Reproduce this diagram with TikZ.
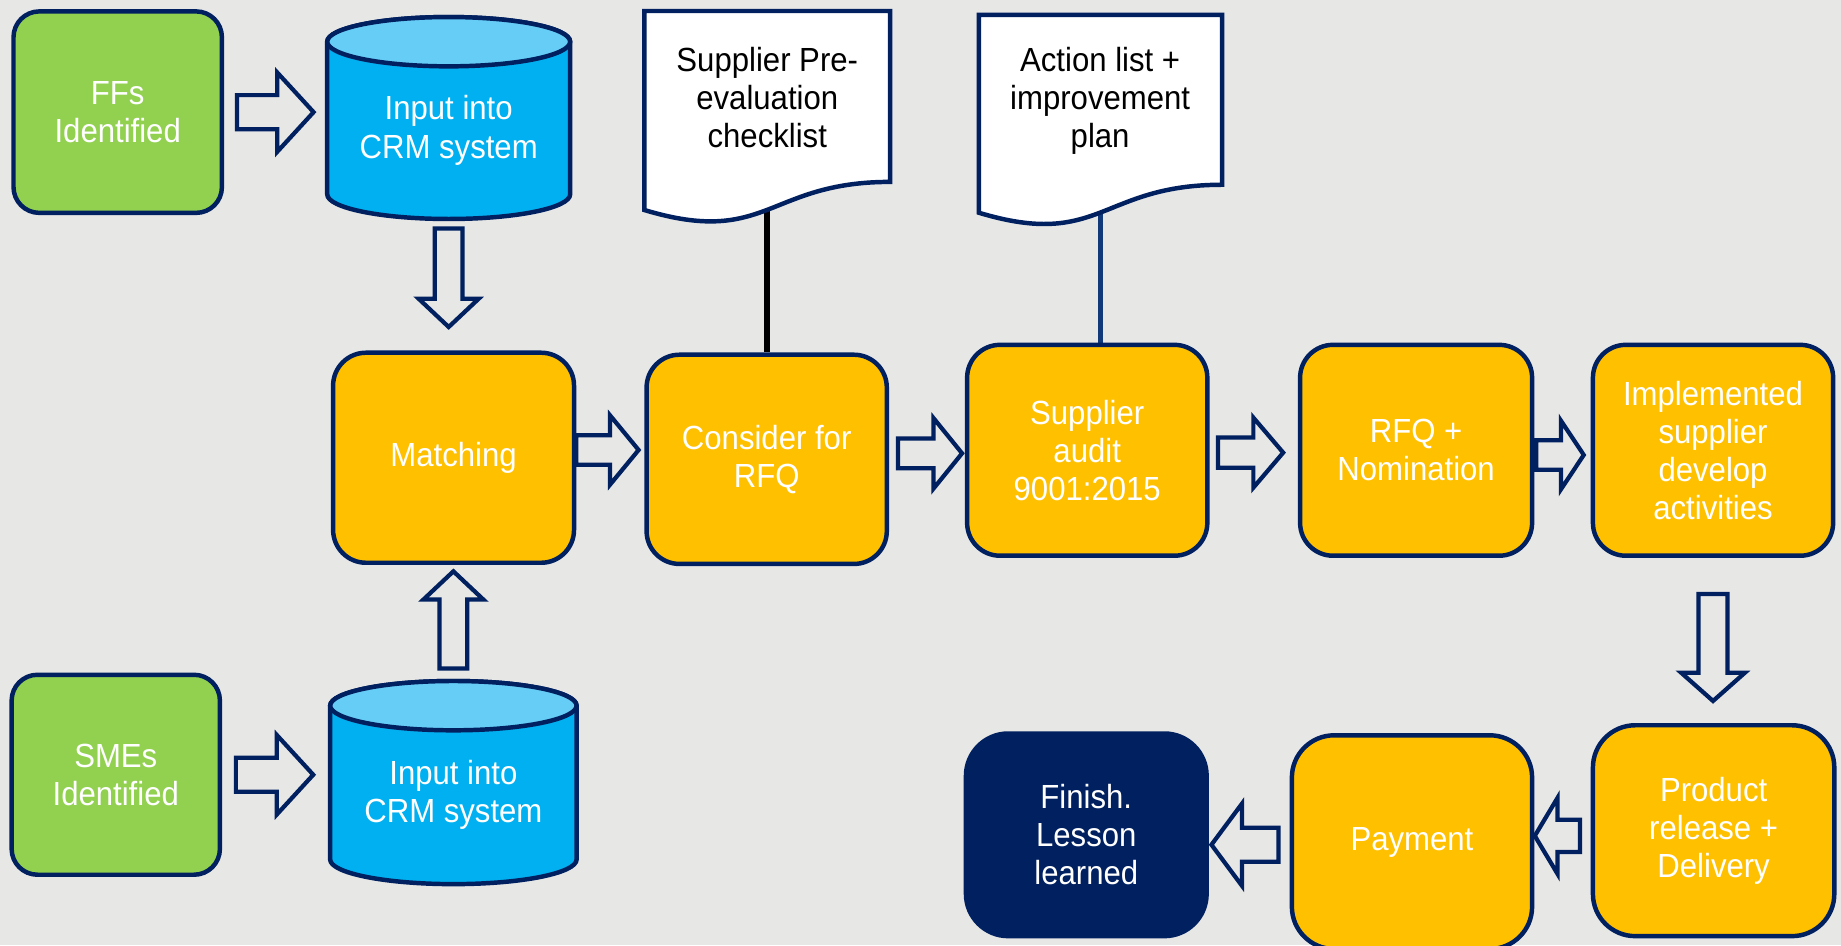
\documentclass[tikz,border=0pt]{standalone}
\usepackage{fontspec}
\setmainfont{Liberation Sans}[FakeStretch=0.93]
\usetikzlibrary{calc}

\definecolor{bg}{HTML}{E7E7E5}
\definecolor{navy}{HTML}{002060}
\definecolor{leaf}{HTML}{92D050}
\definecolor{amber}{HTML}{FFC000}
\definecolor{sky}{HTML}{00B0F0}
\definecolor{skytop}{HTML}{66CEF6}
\definecolor{linkblue}{HTML}{123A7A}

\pgfdeclarelayer{paper}
\pgfdeclarelayer{links}
\pgfsetlayers{paper,links,main}

\tikzset{
  txt/.style={inner sep=0pt, align=center, font=\fontsize{14.25pt}{16.25pt}\selectfont},
  base/.style={txt, draw=navy, line width=1.9pt, text=white},
  greenbox/.style={base, fill=leaf, rounded corners=11pt},
  amberbox/.style={base, fill=amber, rounded corners=14pt},
  lowbox/.style={base, fill=amber, rounded corners=18pt},
  endbox/.style={base, fill=navy, rounded corners=18pt},
  cylnode/.style={txt, text=white, outer sep=0pt},
  docnode/.style={inner sep=0pt, outer sep=0pt},
  doctext/.style={txt, text=black},
  cylbody/.style={fill=sky, draw=navy, line width=1.9pt, line join=round},
  cyltop/.style={fill=skytop, draw=navy, line width=1.9pt},
  docshape/.style={fill=white, draw=navy, line width=1.9pt, line join=miter},
  blockarrow/.style={fill=bg, draw=navy, line width=1.8pt, line join=miter},
}

% cylinder drawn round a node that spans from the top ellipse centre to the bottom
\newcommand\drawcylinder[3]{%
  \draw[cylbody] (#1.north west) -- ($(#1.south west)+(0,-#3)$)
    arc[start angle=180, end angle=0, x radius=#2, y radius=#3]
    -- (#1.north east)
    arc[start angle=0, end angle=-180, x radius=#2, y radius=#3] -- cycle;
  \draw[cyltop] (#1.north) ellipse[x radius=#2, y radius=#3];
}

% flowchart document sheet with a wavy lower edge
\newcommand\drawdocument[1]{%
  \draw[docshape] (#1.north west) -- (#1.north east)
    -- ($(#1.north east)!0.802!(#1.south east)$)
    .. controls ($(#1.north)!0.802!(#1.south)$) and ($(#1.north)!1.1075!(#1.south)$)
    .. ($(#1.north west)!0.934!(#1.south west)$) -- cycle;
}

% outlined block arrow: from, to, start gap, end gap, shaft half width, head half width, head length
\newcommand\blockarrow[7]{%
  \coordinate (ba-a) at (#1);
  \coordinate (ba-b) at (#2);
  \coordinate (ba-s) at ($(ba-a)!#3!(ba-b)$);
  \coordinate (ba-t) at ($(ba-b)!#4!(ba-a)$);
  \coordinate (ba-h) at ($(ba-t)!#7!(ba-s)$);
  \draw[blockarrow] ($(ba-s)!#5!90:(ba-t)$) -- ($(ba-h)!#5!-90:(ba-s)$)
    -- ($(ba-h)!#6!-90:(ba-s)$) -- (ba-t) -- ($(ba-h)!#6!90:(ba-s)$)
    -- ($(ba-h)!#5!90:(ba-s)$) -- ($(ba-s)!#5!-90:(ba-t)$) -- cycle;
}

\begin{document}
\begin{tikzpicture}[x=0.5pt, y=-0.5pt]
\useasboundingbox (0,0) rectangle (1568,805);
\begin{pgfonlayer}{paper}
  \fill[bg] (0,0) rectangle (1568,805);
\end{pgfonlayer}

% cylinders and documents
\node[cylnode, minimum width=103.45pt, minimum height=75.5pt] (cyl1) at (382.15,111) {};
\node[cylnode, minimum width=104.95pt, minimum height=76pt] (cyl2) at (386.15,677) {};
\node[docnode, minimum width=104.65pt, minimum height=90.75pt] (doc1) at (653.5,100.1) {};
\node[docnode, minimum width=103.6pt, minimum height=90.15pt] (doc2) at (937.25,102.9) {};
\drawcylinder{cyl1}{103.45}{21}
\drawcylinder{cyl2}{104.95}{21}
\drawdocument{doc1}
\drawdocument{doc2}
\node[cylnode] (cyl1-text) at (cyl1.center) {Input into\\CRM system};
\node[cylnode] (cyl2-text) at (cyl2.center) {Input into\\CRM system};
\node[doctext] (doc1-text) at (653.5,83) {Supplier Pre-\\evaluation\\checklist};
\node[doctext] (doc2-text) at (937,86) {Action list +\\improvement\\plan};

% process steps
\node[greenbox, minimum width=88.75pt, minimum height=85.8pt] (ffs) at (100.25,95.5) {FFs\\Identified};
\node[greenbox, minimum width=88.7pt, minimum height=85.15pt] (smes) at (98.6,659.85) {SMEs\\Identified};
\node[amberbox, minimum width=102.6pt, minimum height=89.45pt] (match) at (386.3,389.85) {Matching};
\node[amberbox, minimum width=102.3pt, minimum height=89.1pt] (consider) at (653,391.2) {Consider for\\RFQ};
\node[amberbox, minimum width=102.3pt, minimum height=89.8pt] (audit) at (926,383.5) {Supplier\\audit\\9001:2015};
\node[amberbox, minimum width=98.8pt, minimum height=89.8pt] (rfq) at (1206.1,383.5) {RFQ +\\Nomination};
\node[amberbox, minimum width=102.3pt, minimum height=89.8pt] (impl) at (1459,383.5) {Implemented\\supplier\\develop\\activities};
\node[lowbox, minimum width=102.8pt, minimum height=89.8pt] (product) at (1459.5,707.5) {Product\\release +\\Delivery};
\node[lowbox, minimum width=102.3pt, minimum height=91pt] (payment) at (1202.6,717.25) {Payment};
\node[endbox, minimum width=102.5pt, minimum height=86.3pt] (finish) at (925.2,711) {Finish.\\Lesson\\learned};

% lines from the documents down to their steps, kept behind the shapes
\begin{pgfonlayer}{links}
  \draw[black, line width=2.7pt] (doc1.center) -- (doc1.center |- consider.north);
  \draw[linkblue, line width=2pt] (doc2.center) -- (doc2.center |- audit.north);
\end{pgfonlayer}

% block arrows between the steps
\blockarrow{ffs.east}{ffs.east -| cyl1.west}{5.5pt}{5.8pt}{7.25pt}{16.9pt}{15.5pt}
\blockarrow{smes.east}{smes.east -| cyl2.west}{5.85pt}{7.2pt}{7.25pt}{16.9pt}{15.5pt}
\blockarrow{cyl1.south}{cyl1.south |- match.north}{4.1pt}{10pt}{5.9pt}{12.75pt}{12pt}
\blockarrow{cyl2.north}{cyl2.north |- match.south}{15.85pt}{2.7pt}{5.9pt}{12.75pt}{12pt}
\blockarrow{[yshift=3.3pt]match.east}{[yshift=3.3pt]match.east -| consider.west}{0pt}{2.45pt}{6.3pt}{14.8pt}{12.2pt}
\blockarrow{[yshift=2.55pt]consider.east}{[yshift=2.55pt]consider.east -| audit.west}{3.85pt}{1.2pt}{6.35pt}{15.05pt}{12.2pt}
\blockarrow{[yshift=-1pt]audit.east}{[yshift=-1pt]audit.east -| rfq.west}{3.6pt}{6.25pt}{6.4pt}{14.9pt}{12.7pt}
\blockarrow{[yshift=-2pt]rfq.east}{[yshift=-2pt]rfq.east -| impl.west}{0.85pt}{2.95pt}{6.3pt}{14.6pt}{9.7pt}
\blockarrow{impl.south}{impl.south |- product.north}{15.35pt}{9.4pt}{6.15pt}{13.55pt}{12pt}
\blockarrow{[yshift=-2.2pt]product.west}{[yshift=-2.2pt]product.west -| payment.east}{4.55pt}{0.2pt}{6.9pt}{16.15pt}{9.65pt}
\blockarrow{[yshift=-1.1pt]payment.west}{[yshift=-1.1pt]payment.west -| finish.east}{4.75pt}{1.1pt}{7.2pt}{17.5pt}{13pt}
\end{tikzpicture}
\end{document}
